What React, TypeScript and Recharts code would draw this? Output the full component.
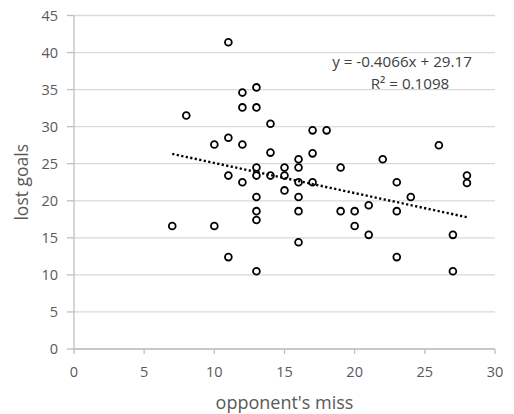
import React from "react";
import {
  ScatterChart,
  Scatter,
  XAxis,
  YAxis,
  CartesianGrid,
  Customized,
} from "recharts";

// opponent's miss (x) and lost goals (y), one entry per team-season
const missX = [
  7, 8, 10, 10, 11, 11, 11, 11, 12, 12, 12, 12, 13, 13, 13, 13, 13, 13, 13, 13,
  14, 14, 14, 15, 15, 15, 16, 16, 16, 16, 16, 16, 17, 17, 17, 18, 19, 19, 20, 20,
  21, 21, 22, 23, 23, 23, 24, 26, 27, 27, 28, 28,
];
const lostY = [
  16.6, 31.5, 27.6, 16.6, 41.4, 28.5, 23.4, 12.4, 34.6, 32.6, 27.6, 22.5, 35.3,
  32.6, 24.5, 23.4, 20.5, 18.6, 17.4, 10.5, 30.4, 26.5, 23.4, 24.5, 23.4, 21.4,
  25.6, 24.5, 22.5, 20.5, 18.6, 14.4, 29.5, 26.4, 22.5, 29.5, 24.5, 18.6, 18.6,
  16.6, 19.4, 15.4, 25.6, 22.5, 18.6, 12.4, 20.5, 27.5, 15.4, 10.5, 23.4, 22.4,
];

// linear trendline as reported on the chart
const trendSlope = -0.4066;
const trendIntercept = 29.17;
const trendR2 = 0.1098;
const trendRange = [7, 28];

const xTicks = [0, 5, 10, 15, 20, 25, 30];
const yTicks = [0, 5, 10, 15, 20, 25, 30, 35, 40, 45];

const points = missX.map((x, i) => ({ x, y: lostY[i] }));
const trend = trendRange.map((x) => ({ x, y: trendSlope * x + trendIntercept }));

const FONT = "'Open Sans', 'Liberation Sans', sans-serif";
const TICK = { fill: "#595959", fontSize: 14.5, fontFamily: FONT };

const Ring = (props: any) => (
  <circle
    cx={props.cx}
    cy={props.cy}
    r={3.4}
    fill="none"
    stroke="#000"
    strokeWidth={1.8}
  />
);

const Nothing = () => <g />;

const Equation = () => (
  <g fontFamily={FONT} fill="#404040" fontSize={15.2}>
    <text x={402} y={67} textAnchor="middle">
      {`y = ${trendSlope}x + ${trendIntercept}`}
    </text>
    <text x={410} y={88.5} textAnchor="middle">
      {`R² = ${trendR2}`}
    </text>
  </g>
);

export default function App() {
  return (
    <div style={{ position: "absolute", left: 0, top: 0, background: "#fff" }}>
      <ScatterChart
        width={514}
        height={414}
        margin={{ top: 15.5, right: 19, bottom: 0, left: 0 }}
      >
        <CartesianGrid vertical={false} stroke="#d9d9d9" strokeWidth={1.3} />
        <XAxis
          type="number"
          dataKey="x"
          domain={[0, 30]}
          ticks={xTicks}
          height={65}
          tickSize={5}
          tickMargin={13}
          stroke="#bfbfbf"
          strokeWidth={1.3}
          tick={TICK}
          label={{
            value: "opponent's miss",
            position: "insideBottom",
            offset: 5,
            fill: "#595959",
            fontSize: 18,
            fontFamily: FONT,
          }}
        />
        <YAxis
          type="number"
          dataKey="y"
          domain={[0, 45]}
          ticks={yTicks}
          width={74}
          tickSize={7}
          tickMargin={9}
          stroke="#bfbfbf"
          strokeWidth={1.3}
          tick={TICK}
          label={{
            value: "lost goals",
            angle: -90,
            position: "center",
            dx: -15,
            fill: "#595959",
            fontSize: 17.5,
            fontFamily: FONT,
          }}
        />
        <Scatter data={points} shape={Ring} isAnimationActive={false} />
        <Scatter
          data={trend}
          shape={Nothing}
          line={{ stroke: "#000", strokeWidth: 2.4, strokeDasharray: "2.2 2.4" }}
          isAnimationActive={false}
        />
        <Customized component={Equation} />
      </ScatterChart>
    </div>
  );
}
